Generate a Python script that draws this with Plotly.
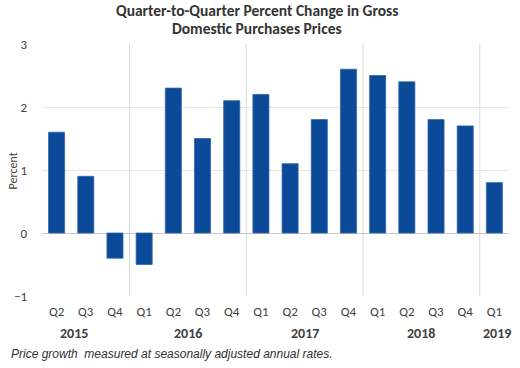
import plotly.graph_objects as go

quarters = ["Q2", "Q3", "Q4", "Q1", "Q2", "Q3", "Q4", "Q1", "Q2", "Q3", "Q4",
            "Q1", "Q2", "Q3", "Q4", "Q1"]
years = [2015, 2015, 2015, 2016, 2016, 2016, 2016, 2017, 2017, 2017, 2017,
         2018, 2018, 2018, 2018, 2019]
values = [1.6, 0.9, -0.4, -0.5, 2.3, 1.5, 2.1, 2.2, 1.1, 1.8, 2.6,
          2.5, 2.4, 1.8, 1.7, 0.8]
year_labels = ["2015", "2016", "2017", "2018", "2019"]
year_label_pos = [0.6, 4.5, 8.5, 12.5, 15.1]
title_lines = ["Quarter-to-Quarter Percent Change in Gross", "Domestic Purchases Prices"]
footnote = "Price growth  measured at seasonally adjusted annual rates."

idx = list(range(len(values)))
bar_color = "#0A4A98"
font_family = "Carlito, Calibri, Lato, sans-serif"

W, H = 520, 368
ML, MR, MT, MB = 42, 11, 44, 72
PW, PH = W - ML - MR, H - MT - MB


def px_x(p):
    return (p - ML) / PW


def px_y(p):
    return (H - MB - p) / PH


fig = go.Figure()
fig.add_trace(go.Bar(
    x=idx, y=values, width=0.55,
    marker=dict(color=bar_color, line=dict(color="#2E64A8", width=0.8)),
    showlegend=False,
))

shapes = []
for i in range(1, len(years)):
    if years[i] != years[i - 1]:
        shapes.append(dict(type="line", xref="x", yref="y",
                           x0=i - 0.5, x1=i - 0.5, y0=-1, y1=3,
                           line=dict(color="#D9D9D9", width=1), layer="below"))

annotations = []
for lab, pos in zip(year_labels, year_label_pos):
    annotations.append(dict(text=f"<b>{lab}</b>", x=pos, xref="x", y=px_y(333), yref="paper",
                            showarrow=False, font=dict(size=14, color="#404040",
                                                       family=font_family),
                            xanchor="center", yanchor="middle"))
for line, yp in zip(title_lines, [10, 28]):
    annotations.append(dict(text=f"<b>{line}</b>", x=px_x(257), xref="paper",
                            y=px_y(yp), yref="paper", xanchor="center", yanchor="middle",
                            showarrow=False,
                            font=dict(size=15.5, color="#333333", family=font_family)))
annotations.append(dict(text="Percent", x=px_x(12.5), xref="paper", y=px_y(171), yref="paper",
                        textangle=-90, xanchor="center", yanchor="middle", showarrow=False,
                        font=dict(size=12, color="#404040", family=font_family)))
annotations.append(dict(text=f"<i>{footnote}</i>",
                        x=px_x(9), xref="paper", y=px_y(354), yref="paper",
                        xanchor="left", yanchor="middle", showarrow=False,
                        font=dict(size=12, color="#303030",
                                  family="Liberation Sans Narrow, Liberation Sans, Arial, sans-serif")))

fig.update_layout(
    width=W, height=H,
    margin=dict(l=ML, r=MR, t=MT, b=MB),
    paper_bgcolor="white", plot_bgcolor="white",
    xaxis=dict(tickmode="array", tickvals=idx, ticktext=quarters,
               range=[-0.5, len(values) - 0.5], showgrid=False, zeroline=False,
               showline=False, ticks="", ticklabelstandoff=6, automargin=False,
               tickfont=dict(size=13, color="#404040", family=font_family)),
    yaxis=dict(range=[-1, 3], tickvals=[-1, 0, 1, 2, 3],
               showgrid=True, gridcolor="#E6E6E6", gridwidth=1,
               zeroline=True, zerolinecolor="#C8C8C8", zerolinewidth=1,
               showline=False, ticks="", ticklabelstandoff=14, automargin=False,
               tickfont=dict(size=13, color="#404040", family=font_family)),
    shapes=shapes,
    annotations=annotations,
)

fig.write_html("out.html", config={"displayModeBar": False},
               post_script="document.body.style.margin='0px';document.body.style.padding='0px';")
